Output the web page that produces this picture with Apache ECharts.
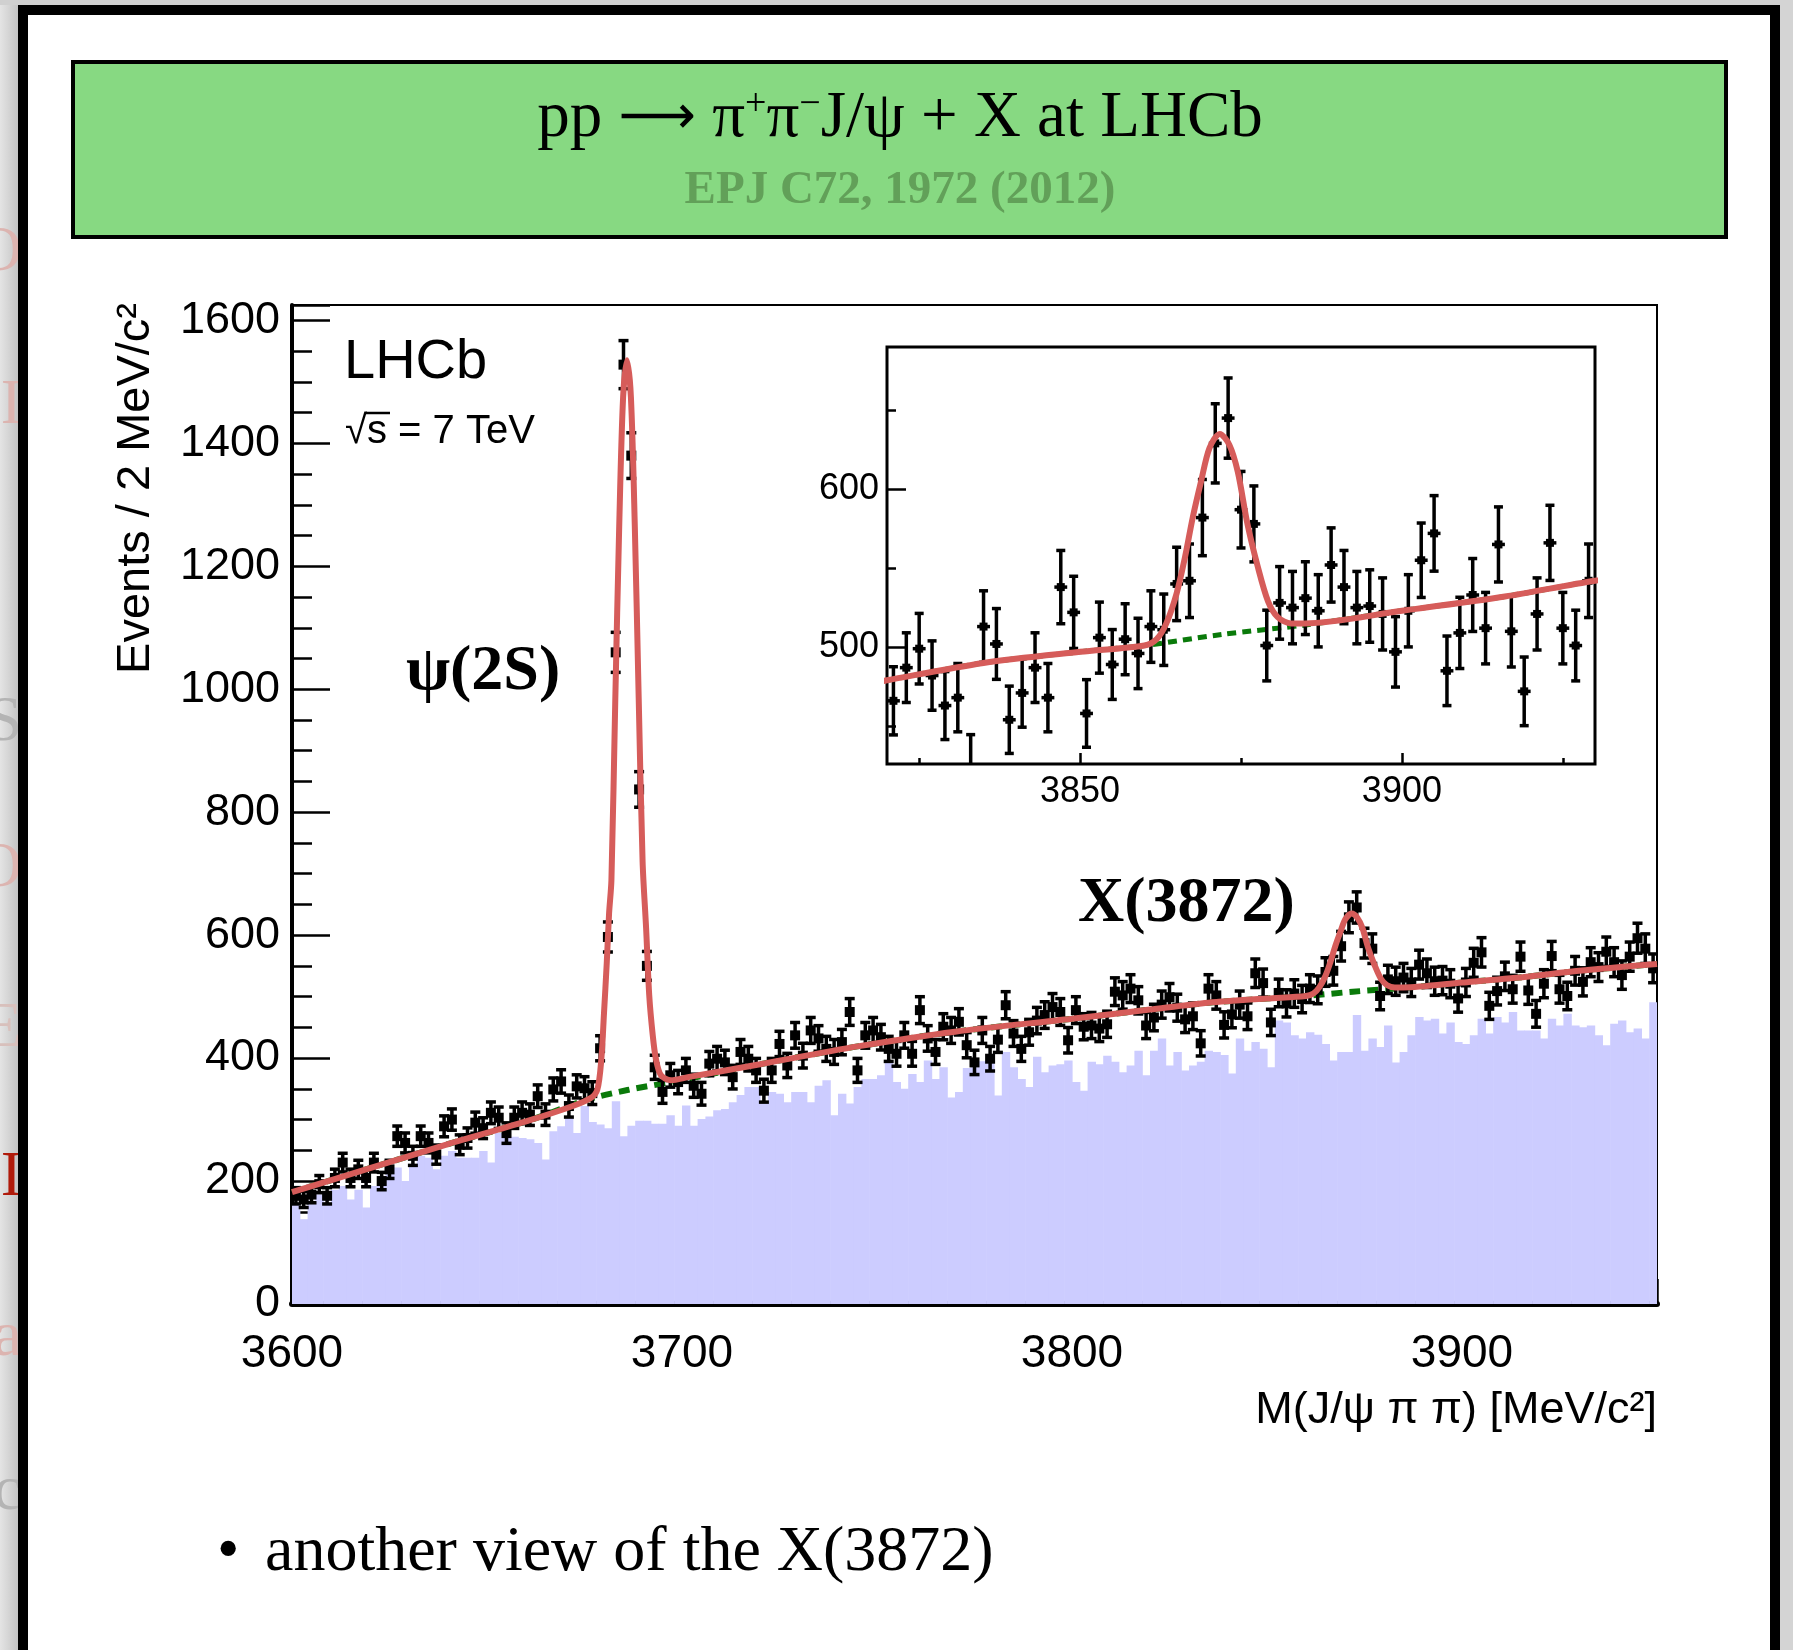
<!DOCTYPE html>
<html>
<head>
<meta charset="utf-8">
<script src="https://cdn.jsdelivr.net/npm/echarts@6/dist/echarts.min.js"></script>
<style>
  html, body { margin: 0; padding: 0; background: #fff; }
  #chart { width: 1793px; height: 1650px; }
</style>
</head>
<body>
<div id="chart"></div>
<script>
// 2 MeV/c^2 bins, 3600 .. 3950
const binLow = 3600
const binWidth = 2

// events per bin (black points)
const counts = [
  176, 170, 178, 195, 176, 205, 230, 205, 219, 205,
  230, 200, 219, 273, 262, 241, 273, 262, 243, 289,
  300, 259, 270, 295, 286, 311, 303, 278, 303, 311,
  308, 338, 308, 349, 362, 322, 354, 351, 343, 416,
  597, 1060, 1528, 1380, 837, 550, 385, 345, 372, 361,
  380, 355, 342, 391, 399, 393, 369, 410, 399, 380,
  347, 380, 423, 388, 437, 404, 445, 432, 415, 410,
  426, 475, 380, 437, 445, 434, 415, 407, 437, 407,
  478, 432, 410, 451, 445, 459, 421, 393, 445, 399,
  430, 486, 440, 415, 442, 461, 470, 483, 475, 429,
  478, 451, 453, 448, 455, 508, 502, 513, 494, 453,
  466, 487, 499, 482, 463, 468, 424, 513, 502, 454,
  471, 487, 468, 538, 522, 458, 506, 489, 505, 496,
  513, 511, 540, 542, 582, 629, 645, 587, 578, 501,
  528, 525, 531, 523, 552, 538, 525, 526, 521, 497,
  523, 555, 572, 485, 509, 533, 512, 565, 510, 472,
  521, 566, 512, 501, 542, 524, 556, 548, 573, 556,
  535, 565, 595, 578, 546
]

// same-sign pairs (lavender histogram), same bins
const sameSign = [
  162, 138, 168, 178, 165, 186, 192, 170, 186, 157,
  192, 200, 219, 222, 200, 224, 241, 238, 219, 241,
  249, 238, 238, 238, 249, 230, 278, 272, 272, 270,
  268, 262, 235, 281, 289, 303, 278, 322, 296, 292,
  286, 330, 273, 290, 298, 298, 293, 293, 307, 290,
  323, 290, 301, 305, 315, 317, 328, 340, 353, 353,
  328, 345, 342, 328, 345, 345, 328, 355, 364, 307,
  342, 326, 353, 366, 366, 372, 393, 361, 350, 374,
  361, 396, 366, 385, 336, 345, 384, 385, 395, 400,
  339, 410, 385, 366, 353, 402, 377, 388, 390, 396,
  361, 347, 394, 390, 404, 394, 377, 388, 412, 372,
  412, 432, 388, 410, 380, 388, 394, 412, 410, 405,
  375, 432, 412, 426, 415, 385, 461, 458, 437, 432,
  442, 438, 423, 396, 410, 410, 470, 412, 432, 418,
  453, 393, 410, 437, 467, 461, 464, 440, 458, 426,
  423, 437, 464, 440, 467, 458, 475, 445, 445, 445,
  432, 464, 453, 472, 453, 450, 453, 437, 421, 456,
  461, 442, 448, 432, 491
]

// red fit curve, [mass, events]
const fitCurve = [
  [3600, 182], [3620, 221], [3640, 260], [3660, 297], [3672, 322],
  [3676.6, 335], [3678.3, 349], [3679.3, 397], [3680.0, 473], [3680.7, 554],
  [3681.3, 635], [3681.9, 689], [3682.9, 985], [3683.9, 1265], [3684.9, 1475],
  [3685.9, 1535], [3686.9, 1475], [3687.9, 1265], [3688.9, 985], [3689.9, 719],
  [3690.8, 611], [3691.6, 502], [3692.5, 437], [3693.3, 399], [3694.6, 372],
  [3697.2, 364], [3701.5, 369], [3720, 390], [3745, 419], [3770, 443],
  [3800, 464], [3820, 479], [3835, 490], [3850, 497], [3860, 501],
  [3861.9, 505], [3863.4, 515], [3865.0, 534], [3866.3, 557], [3867.5, 582],
  [3868.8, 605], [3870.1, 626], [3871.7, 635], [3873.2, 628], [3874.5, 611],
  [3876.0, 578], [3877.6, 551], [3879.2, 529], [3880.7, 519], [3882.8, 515],
  [3884.9, 515], [3900, 523], [3916, 532], [3930, 542], [3950, 553]
]

// green dotted background component
const bkgCurve = [
  [3600, 182], [3620, 221], [3640, 260], [3660, 297], [3676, 333],
  [3686, 348], [3698, 362], [3720, 390], [3745, 419], [3770, 443],
  [3800, 464], [3820, 479], [3835, 490], [3850, 497], [3860, 501],
  [3872, 508], [3885, 514], [3900, 523], [3916, 532], [3930, 542], [3950, 553]
]

// inset ticks
const insetXLabels = [3850, 3900]
const insetXMinor = [3825, 3875, 3925]
const insetYLabels = [500, 600]
const insetYMinor = [450, 550, 650]

const SANS = '"Liberation Sans", Arial, Helvetica, sans-serif'
const SERIF = '"Liberation Serif", "Times New Roman", serif'
const RED = '#d65c5a'
const GREEN = '#0a7a0a'

const points = counts.map((n, k) => [binLow + binWidth * (k + 0.5), n])
const hist = sameSign.map((n, k) => [binLow + binWidth * (k + 0.5), n])
const insetPoints = points.filter(p => p[0] > 3820 && p[0] < 3930)

function drawPoint(marker, cap, lw) {
  return function (params, api) {
    const x = api.value(0)
    const n = api.value(1)
    const err = Math.sqrt(n)
    const mid = api.coord([x, n])
    const hi = api.coord([x, n + err])
    const lo = api.coord([x, n - err])
    const l = api.coord([x - binWidth / 2, n])
    const r = api.coord([x + binWidth / 2, n])
    const st = { stroke: '#000', lineWidth: lw }
    return {
      type: 'group',
      children: [
        { type: 'line', shape: { x1: mid[0], y1: hi[1], x2: mid[0], y2: lo[1] }, style: st },
        { type: 'line', shape: { x1: mid[0] - cap, y1: hi[1], x2: mid[0] + cap, y2: hi[1] }, style: st },
        { type: 'line', shape: { x1: mid[0] - cap, y1: lo[1], x2: mid[0] + cap, y2: lo[1] }, style: st },
        { type: 'line', shape: { x1: l[0], y1: mid[1], x2: r[0], y2: mid[1] }, style: st },
        {
          type: 'rect',
          shape: { x: mid[0] - marker / 2, y: mid[1] - marker / 2, width: marker, height: marker },
          style: { fill: '#000' }
        }
      ]
    }
  }
}

function drawBin(params, api) {
  const x = api.value(0)
  const n = api.value(1)
  const a = api.coord([x - binWidth / 2, n])
  const b = api.coord([x + binWidth / 2, 0])
  return {
    type: 'rect',
    shape: { x: a[0], y: a[1], width: b[0] - a[0] + 0.6, height: b[1] - a[1] },
    style: { fill: '#ccccff' }
  }
}

const num = v => String(v)
const tickStyle = { color: '#000', width: 2.5 }

const chart = echarts.init(document.getElementById('chart'))

chart.setOption({
  animation: false,
  backgroundColor: '#fff',
  grid: [
    { left: 292, top: 305, width: 1365, height: 999, show: true, borderColor: '#000', borderWidth: 2 },
    { left: 887, top: 347, width: 708, height: 417, show: true, borderColor: '#000', borderWidth: 3, backgroundColor: '#fff', z: 5 }
  ],
  xAxis: [
    {
      gridIndex: 0, type: 'value', min: 3600, max: 3950, interval: 100,
      axisLine: { onZero: false, lineStyle: { color: '#000', width: 6 } },
      axisTick: { inside: true, length: 25, lineStyle: tickStyle },
      minorTick: { show: true, splitNumber: 5, length: 11, lineStyle: tickStyle },
      axisLabel: { showMaxLabel: false, formatter: num, color: '#000', fontSize: 46, fontFamily: SANS, margin: 27 },
      splitLine: { show: false }
    },
    {
      gridIndex: 1, type: 'value', min: 3820, max: 3930, position: 'bottom', z: 6,
      axisLine: { show: false },
      axisTick: { inside: true, length: 11, customValues: insetXLabels, lineStyle: tickStyle },
      axisLabel: { customValues: insetXLabels, formatter: num, color: '#000', fontSize: 36, fontFamily: SANS, margin: 10 },
      splitLine: { show: false }
    },
    {
      gridIndex: 1, type: 'value', min: 3820, max: 3930, position: 'bottom', z: 6,
      axisLine: { show: false },
      axisTick: { inside: true, length: 6, customValues: insetXMinor, lineStyle: tickStyle },
      axisLabel: { show: false },
      splitLine: { show: false }
    }
  ],
  yAxis: [
    {
      gridIndex: 0, type: 'value', min: 0, max: 1625, interval: 200,
      axisLine: { show: true, lineStyle: { color: '#000', width: 4 } },
      axisTick: { inside: true, length: 38, lineStyle: tickStyle },
      minorTick: { show: true, splitNumber: 4, length: 20, lineStyle: tickStyle },
      axisLabel: {
        showMaxLabel: false, formatter: num, color: '#000', fontSize: 45, fontFamily: SANS,
        margin: 12, padding: [8, 0, 0, 0]
      },
      splitLine: { show: false }
    },
    {
      gridIndex: 1, type: 'value', min: 426, max: 690, position: 'left', z: 6,
      axisLine: { show: false },
      axisTick: { inside: true, length: 19, customValues: insetYLabels, lineStyle: tickStyle },
      axisLabel: {
        customValues: insetYLabels, formatter: num, color: '#000', fontSize: 36, fontFamily: SANS,
        margin: 8, padding: [6, 0, 0, 0]
      },
      splitLine: { show: false }
    },
    {
      gridIndex: 1, type: 'value', min: 426, max: 690, position: 'left', z: 6,
      axisLine: { show: false },
      axisTick: { inside: true, length: 9, customValues: insetYMinor, lineStyle: tickStyle },
      axisLabel: { show: false },
      splitLine: { show: false }
    }
  ],
  series: [
    {
      type: 'custom', xAxisIndex: 0, yAxisIndex: 0, data: hist, renderItem: drawBin,
      encode: { x: 0, y: 1 }, clip: true, z: 1, silent: true
    },
    {
      type: 'line', xAxisIndex: 0, yAxisIndex: 0, data: bkgCurve, showSymbol: false, smooth: 0.3,
      lineStyle: { color: GREEN, width: 6, type: [11, 7] }, z: 2, silent: true
    },
    {
      type: 'custom', xAxisIndex: 0, yAxisIndex: 0, data: points, renderItem: drawPoint(10, 5, 3.5),
      encode: { x: 0, y: 1 }, clip: true, z: 3, silent: true
    },
    {
      type: 'line', xAxisIndex: 0, yAxisIndex: 0, data: fitCurve, showSymbol: false, smooth: 0.3,
      lineStyle: { color: RED, width: 6 }, z: 4, silent: true
    },
    {
      type: 'line', xAxisIndex: 1, yAxisIndex: 1, data: bkgCurve, showSymbol: false, smooth: 0.3,
      lineStyle: { color: GREEN, width: 5, type: [9, 6] }, z: 7, silent: true
    },
    {
      type: 'custom', xAxisIndex: 1, yAxisIndex: 1, data: insetPoints, renderItem: drawPoint(8, 4.5, 3.5),
      encode: { x: 0, y: 1 }, clip: true, z: 8, silent: true
    },
    {
      type: 'line', xAxisIndex: 1, yAxisIndex: 1, data: fitCurve, showSymbol: false, smooth: 0.3,
      lineStyle: { color: RED, width: 6 }, z: 9, silent: true
    }
  ],
  graphic: [
    // slide edges
    {
      type: 'rect', shape: { x: 0, y: 0, width: 18, height: 1650 }, z: -10,
      style: {
        fill: { type: 'linear', x: 0, y: 0, x2: 1, y2: 0, colorStops: [{ offset: 0, color: '#e4e4e4' }, { offset: 1, color: '#c4c4c4' }] }
      }
    },
    { type: 'rect', shape: { x: 0, y: 0, width: 1793, height: 5 }, style: { fill: '#d0d0d0' }, z: -10 },
    { type: 'rect', shape: { x: 1780, y: 0, width: 13, height: 1650 }, style: { fill: '#d4d4d4' }, z: -10 },
    { type: 'text', x: 22, y: 253, z: -9, style: { text: 'O', fill: '#dcb4b0', font: '64px ' + SERIF, textAlign: 'right', textVerticalAlign: 'middle' } },
    { type: 'text', x: 22, y: 406, z: -9, style: { text: 'I', fill: '#dcb4b0', font: '64px ' + SERIF, textAlign: 'right', textVerticalAlign: 'middle' } },
    { type: 'text', x: 22, y: 723, z: -9, style: { text: 'IS', fill: '#b4b4b4', font: '64px ' + SERIF, textAlign: 'right', textVerticalAlign: 'middle' } },
    { type: 'text', x: 22, y: 869, z: -9, style: { text: 'O', fill: '#dcb4b0', font: '64px ' + SERIF, textAlign: 'right', textVerticalAlign: 'middle' } },
    { type: 'text', x: 22, y: 1029, z: -9, style: { text: 'E', fill: '#d8c0bc', font: '64px ' + SERIF, textAlign: 'right', textVerticalAlign: 'middle' } },
    { type: 'text', x: 22, y: 1178, z: -9, style: { text: 'I', fill: '#b01a0a', font: '64px ' + SERIF, textAlign: 'right', textVerticalAlign: 'middle' } },
    { type: 'text', x: 22, y: 1338, z: -9, style: { text: 'a', fill: '#dcb4b0', font: '64px ' + SERIF, textAlign: 'right', textVerticalAlign: 'middle' } },
    { type: 'text', x: 22, y: 1492, z: -9, style: { text: 'oc', fill: '#b4b4b4', font: '64px ' + SERIF, textAlign: 'right', textVerticalAlign: 'middle' } },
    { type: 'rect', shape: { x: 18, y: 5, width: 10, height: 1645 }, style: { fill: '#000' }, z: -8 },
    { type: 'rect', shape: { x: 18, y: 5, width: 1762, height: 10 }, style: { fill: '#000' }, z: -8 },
    { type: 'rect', shape: { x: 1770, y: 5, width: 10, height: 1645 }, style: { fill: '#000' }, z: -8 },

    // title box
    { type: 'rect', shape: { x: 73, y: 62, width: 1653, height: 175 }, style: { fill: '#87d982', stroke: '#000', lineWidth: 4 }, z: -5 },
    {
      type: 'text', x: 900, y: 119, z: 10,
      style: {
        text: '{t|pp }{a|⟶}{t| π}{s|+}{t|π}{s|−}{t|J/ψ + X at LHCb}',
        textAlign: 'center', textVerticalAlign: 'middle',
        rich: {
          t: { fontSize: 65, fontFamily: SERIF, fill: '#000' },
          a: { fontSize: 54, fontFamily: '"DejaVu Sans", sans-serif', fill: '#000' },
          s: { fontSize: 38, fontFamily: SERIF, fill: '#000', verticalAlign: 'top' }
        }
      }
    },
    {
      type: 'text', x: 900, y: 191, z: 10,
      style: { text: 'EPJ C72, 1972 (2012)', fill: '#62a059', font: 'bold 47px ' + SERIF, textAlign: 'center', textVerticalAlign: 'middle' }
    },

    // axis titles
    {
      type: 'text', x: 136, y: 303, rotation: Math.PI / 2, z: 10,
      style: { text: 'Events / 2 MeV/c²', fill: '#000', font: '47px ' + SANS, textAlign: 'right', textVerticalAlign: 'middle' }
    },
    {
      type: 'text', x: 1657, y: 1411, z: 10,
      style: { text: 'M(J/ψ π π) [MeV/c²]', fill: '#000', font: '45px ' + SANS, textAlign: 'right', textVerticalAlign: 'middle' }
    },

    // plot labels
    { type: 'text', x: 344, y: 363, z: 10, style: { text: 'LHCb', fill: '#000', font: '56px ' + SANS, textAlign: 'left', textVerticalAlign: 'middle' } },
    { type: 'text', x: 345, y: 432, z: 10, style: { text: '√s = 7 TeV', fill: '#000', font: '40px ' + SANS, textAlign: 'left', textVerticalAlign: 'middle' } },
    { type: 'line', shape: { x1: 366, y1: 413, x2: 390, y2: 413 }, style: { stroke: '#000', lineWidth: 2.5 }, z: 10 },
    { type: 'text', x: 406, y: 672, z: 10, style: { text: 'ψ(2S)', fill: '#000', font: 'bold 64px ' + SERIF, textAlign: 'left', textVerticalAlign: 'middle' } },
    { type: 'text', x: 1078, y: 904, z: 10, style: { text: 'X(3872)', fill: '#000', font: 'bold 64px ' + SERIF, textAlign: 'left', textVerticalAlign: 'middle' } },

    // bullet line
    { type: 'text', x: 217, y: 1553, z: 10, style: { text: '•', fill: '#000', font: '64px ' + SERIF, textAlign: 'left', textVerticalAlign: 'middle' } },
    { type: 'text', x: 265, y: 1553, z: 10, style: { text: 'another view of the X(3872)', fill: '#000', font: '64px ' + SERIF, textAlign: 'left', textVerticalAlign: 'middle' } }
  ]
})
</script>
</body>
</html>
